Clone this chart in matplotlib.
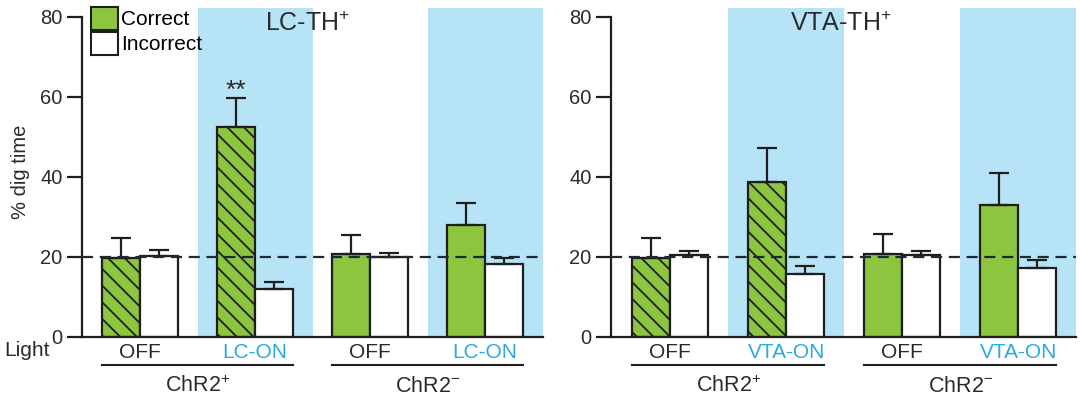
import matplotlib
matplotlib.use('Agg')
import matplotlib.pyplot as plt
from matplotlib.patches import Patch
import numpy as np

# ---------------- data ----------------
lc_groups = ['OFF', 'LC-ON', 'OFF', 'LC-ON']
vta_groups = ['OFF', 'VTA-ON', 'OFF', 'VTA-ON']
light_on = [False, True, False, True]
hatched = [True, True, False, False]          # ChR2+ correct bars are hatched
genotypes = ['ChR2$^{+}$', 'ChR2$^{-}$']
panel_titles = ['LC-TH$^{+}$', 'VTA-TH$^{+}$']
series_labels = ['Correct', 'Incorrect']

lc_correct = [19.8, 52.6, 20.7, 27.9]
lc_correct_err = [5.0, 7.1, 4.8, 5.5]
lc_incorrect = [20.3, 12.0, 20.0, 18.3]
lc_incorrect_err = [1.5, 1.8, 1.0, 1.5]

vta_correct = [19.8, 38.8, 20.8, 33.0]
vta_correct_err = [5.0, 8.4, 5.0, 7.9]
vta_incorrect = [20.4, 15.8, 20.4, 17.3]
vta_incorrect_err = [1.2, 1.9, 1.1, 2.0]

chance_level = 20
yticks = [0, 20, 40, 60, 80]
significance = {0: (1, '**')}   # panel -> (group index, mark)

# ---------------- style ----------------
plt.rcParams['font.family'] = ['Liberation Sans', 'DejaVu Sans']
plt.rcParams['mathtext.fontset'] = 'custom'
plt.rcParams['mathtext.rm'] = 'Liberation Sans'
plt.rcParams['mathtext.it'] = 'Liberation Sans:italic'
plt.rcParams['mathtext.bf'] = 'Liberation Sans:bold'
plt.rcParams['hatch.linewidth'] = 1.3

GREEN = '#8cc63f'
BLUE = '#b6e4f6'
CYAN = '#2aaae2'
DARK = '#1e1e1e'
TXT = '#2a2a2a'

W, H = 1080, 399
fig = plt.figure(figsize=(W / 100, H / 100), dpi=100)


def px_axes(left, bottom_px, width, top_px):
    return fig.add_axes([left / W, (H - bottom_px) / H, width / W, (bottom_px - top_px) / H])


bw = 0.33
y_top = 82.25

panels = [
    dict(left=82, unit=115, xl=-0.505, groups=lc_groups, c=lc_correct, ce=lc_correct_err,
         i=lc_incorrect, ie=lc_incorrect_err, title=panel_titles[0], title_x=265),
    dict(left=611, unit=116, xl=-0.51, groups=vta_groups, c=vta_correct, ce=vta_correct_err,
         i=vta_incorrect, ie=vta_incorrect_err, title=panel_titles[1], title_x=790),
]

for pi, p in enumerate(panels):
    xr = 3.5
    width_px = (xr - p['xl']) * p['unit']
    ax = px_axes(p['left'], 337, width_px, 337 - y_top * 4)
    ax.set_xlim(p['xl'], xr)
    ax.set_ylim(0, y_top)
    x = np.arange(len(p['groups']))

    for xi, on in zip(x, light_on):
        if on:
            ax.axvspan(xi - 0.5, xi + 0.5, color=BLUE, lw=0, zorder=0)

    for xi, val, h in zip(x, p['c'], hatched):
        ax.bar(xi - bw / 2, val, bw, color=GREEN, edgecolor=DARK, linewidth=1.6,
               hatch='\\\\' if h else None, zorder=2)
    ax.bar(x + bw / 2, p['i'], bw, color='white', edgecolor=DARK, linewidth=1.6, zorder=2)

    zeros = np.zeros(len(x))
    ax.errorbar(x - bw / 2, p['c'], yerr=[zeros, p['ce']], fmt='none', ecolor=DARK,
                elinewidth=1.6, capsize=7, capthick=1.6, zorder=3)
    ax.errorbar(x + bw / 2, p['i'], yerr=[zeros, p['ie']], fmt='none', ecolor=DARK,
                elinewidth=1.6, capsize=7, capthick=1.6, zorder=3)

    ax.axhline(chance_level, color='#1d2a36', lw=1.6, dashes=(5, 3), zorder=4)

    if pi in significance:
        gi, mark = significance[pi]
        ax.text(x[gi] - bw / 2, p['c'][gi] + p['ce'][gi] - 1.2, mark, ha='center',
                va='bottom', fontsize=19, color=TXT)

    for s in ['top', 'right']:
        ax.spines[s].set_visible(False)
    ax.spines['left'].set_bounds(0, 80)
    ax.spines['left'].set_linewidth(1.6)
    ax.spines['bottom'].set_linewidth(1.6)
    ax.spines['left'].set_color(DARK)
    ax.spines['bottom'].set_color(DARK)
    ax.set_yticks(yticks)
    ax.tick_params(axis='y', length=11, width=1.6, color=DARK, labelsize=14.5,
                   labelcolor=TXT, pad=3)
    ax.set_xticks([])
    ax.patch.set_alpha(0)

    # group labels
    for xi, g, on in zip(x, p['groups'], light_on):
        ax.text(xi, -3.9, g, ha='center', va='center', fontsize=15,
                color=CYAN if on else TXT, clip_on=False)
    # genotype lines and labels
    for k, gname in enumerate(genotypes):
        x0, x1 = x[2 * k] - bw, x[2 * k + 1] + bw
        ax.plot([x0, x1], [-7.0, -7.0], color=DARK, lw=1.5, clip_on=False)
        ax.text((x0 + x1) / 2, -12.3, gname, ha='center', va='center', fontsize=15.5,
                color=TXT, clip_on=False)

    fig.text(p['title_x'] / W, 1 - 31 / H, p['title'], ha='left', va='baseline',
             fontsize=18, color=TXT)

    if pi == 0:
        handles = [Patch(facecolor=GREEN, edgecolor=DARK, linewidth=1.5),
                   Patch(facecolor='white', edgecolor=DARK, linewidth=1.5)]
        fig.legend(handles, series_labels, loc='upper left',
                   bbox_to_anchor=(91 / W, 1 - 7 / H), frameon=False, fontsize=15,
                   handlelength=1.3, handleheight=1.3, handletextpad=0.15,
                   labelspacing=0.1, borderpad=0, borderaxespad=0)

fig.text(21 / W, 1 - 172 / H, '% dig time', rotation=90, ha='center', va='center',
         fontsize=14.5, color=TXT)
fig.text(4 / W, 1 - 351 / H, 'Light', ha='left', va='center', fontsize=15, color=TXT)

fig.savefig('out.png', dpi=100)
